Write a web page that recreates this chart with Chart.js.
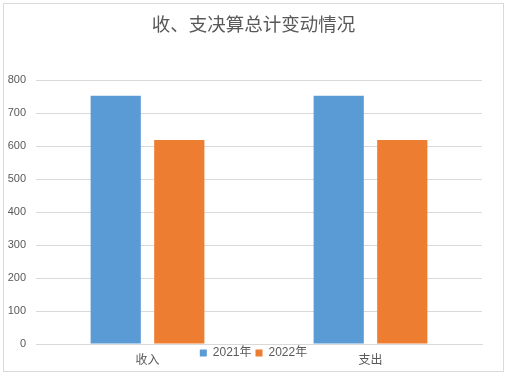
<!DOCTYPE html>
<html>
<head>
<meta charset="utf-8">
<script src="https://cdn.jsdelivr.net/npm/chart.js"></script>
<style>
  html, body { margin: 0; padding: 0; background: #fff; }
  .wrap { position: relative; width: 507px; height: 375px; }
  .frame { position: absolute; left: 3px; top: 3px; width: 499px; height: 367px; border: 1px solid #d9d9d9; pointer-events: none; }
</style>
</head>
<body>
<div class="wrap">
  <canvas id="myChart" width="507" height="375"></canvas>
  <div class="frame"></div>
</div>
<script>
// 데이터
const categories = ['收入', '支出'];
const seriesNames = ['2021年', '2022年'];
const values2021 = [753, 753];
const values2022 = [619, 619];
const seriesColors = ['#5B9BD5', '#ED7D31'];

const textColor = '#595959';
const gridColor = '#d9d9d9';

// 범례를 x축 라벨 사이로 끌어올림 (공간은 차지하지 않게)
const legendShift = {
    id: 'legendShift',
    beforeLayout(chart) {
        const lg = chart.legend;
        if (lg && !lg._patched) {
            const fit = lg.fit;
            lg.fit = function () {
                fit.call(this);
                this._realHeight = this.height;
                this.height = 0;
            };
            lg._patched = true;
        }
    },
    afterLayout(chart) {
        const lg = chart.legend;
        if (!lg) return;
        lg.top = chart.chartArea.bottom - 1;
        lg.height = lg._realHeight;
        lg.bottom = lg.top + lg.height;
    }
};

const ctx = document.getElementById('myChart').getContext('2d');
new Chart(ctx, {
    type: 'bar',
    data: {
        labels: categories,
        datasets: [
            { label: seriesNames[0], data: values2021, backgroundColor: seriesColors[0] },
            { label: seriesNames[1], data: values2022, backgroundColor: seriesColors[1] },
        ],
    },
    options: {
        responsive: false,
        animation: false,
        categoryPercentage: 0.57,
        barPercentage: 0.79,
        layout: { padding: { top: 12, left: 6, right: 6, bottom: 8 } },
        plugins: {
            title: {
                display: true,
                text: '收、支决算总计变动情况',
                color: textColor,
                font: { family: '"Noto Sans CJK SC", sans-serif', size: 18.5, weight: 'normal' },
                padding: { top: 1, bottom: 45 },
            },
            legend: {
                position: 'bottom',
                labels: {
                    color: textColor,
                    boxWidth: 7,
                    boxHeight: 7,
                    padding: 4,
                    font: { family: '"Liberation Sans", "Noto Sans CJK SC", sans-serif', size: 12 },
                },
            },
            tooltip: { enabled: false },
        },
        scales: {
            x: {
                grid: { display: false, drawTicks: false },
                border: { color: gridColor },
                ticks: {
                    color: textColor,
                    padding: 9,
                    font: { family: '"Liberation Sans", "Noto Sans CJK SC", sans-serif', size: 12 },
                },
                afterFit(scale) { scale.height = 23; },
            },
            y: {
                min: 0,
                max: 800,
                grid: { color: gridColor, drawTicks: false },
                border: { display: false },
                ticks: {
                    stepSize: 100,
                    color: textColor,
                    padding: 10,
                    font: { family: '"Liberation Sans", sans-serif', size: 11 },
                },
                afterFit(scale) { scale.width = 30; },
            },
            yRight: {
                position: 'right',
                grid: { display: false, drawTicks: false },
                border: { display: false },
                ticks: { display: false },
                afterFit(scale) { scale.width = 19; },
            },
        },
    },
    plugins: [legendShift],
});
</script>
</body>
</html>
